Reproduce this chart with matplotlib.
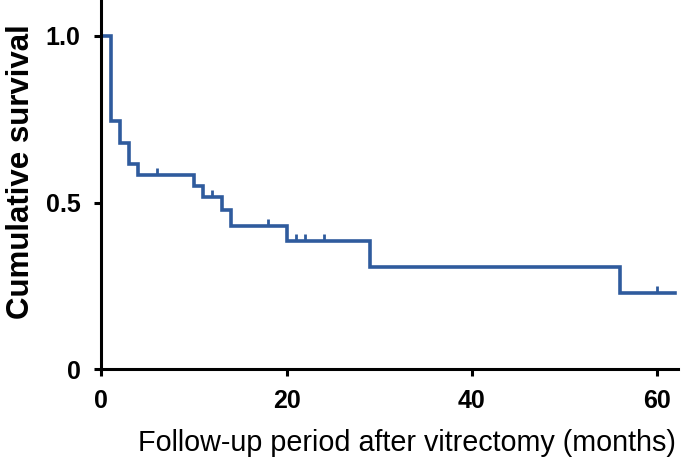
import numpy as np
import matplotlib
matplotlib.use('Agg')
import matplotlib.pyplot as plt

plt.rcParams['font.family'] = ['Liberation Sans', 'DejaVu Sans']

# Kaplan-Meier step data (months, survival)
event_times = [0, 1, 2, 3, 4, 10, 11, 13, 14, 20, 29, 56, 62]
survival = [1.0, 0.745, 0.68, 0.616, 0.583, 0.55, 0.517, 0.477, 0.43, 0.385, 0.306, 0.23, 0.23]

# censored observations
censor_times = [6, 12, 18, 21, 22, 24, 60]

line_color = '#2f5b9d'

fig = plt.figure(figsize=(6.85, 4.61), dpi=100)
ax = fig.add_axes([0.148, 0.199, 0.842, 0.801])

ax.step(event_times, survival, where='post', color=line_color, lw=2.6, solid_joinstyle='miter')

# censor marks: short upward ticks on the curve
censor_y = [survival[np.searchsorted(event_times, t, side='right') - 1] for t in censor_times]
for t, y in zip(censor_times, censor_y):
    ax.plot([t, t], [y, y + 0.02], color=line_color, lw=2, solid_capstyle='butt')

ax.set_xlim(0, 62.3)
ax.set_ylim(0, 1.108)
ax.set_xticks([0, 20, 40, 60])
ax.set_yticks([0, 0.5, 1.0])
ax.set_yticklabels(['0', '0.5', '1.0'])

for side in ['top', 'right']:
    ax.spines[side].set_visible(False)
for side in ['left', 'bottom']:
    ax.spines[side].set_linewidth(2.2)

ax.tick_params(direction='out', length=5, width=2.2, labelsize=18)
ax.tick_params(axis='x', pad=9)
ax.tick_params(axis='y', pad=10)
for lab in ax.get_xticklabels() + ax.get_yticklabels():
    lab.set_fontweight('bold')

ax.set_xlabel('Follow-up period after vitrectomy (months)', fontsize=20.7)
ax.set_ylabel('Cumulative survival', fontsize=22.5, fontweight='bold')
ax.xaxis.set_label_coords(0.529, -0.163)
ax.yaxis.set_label_coords(-0.114, 0.534)

fig.savefig('out.png', dpi=100)
